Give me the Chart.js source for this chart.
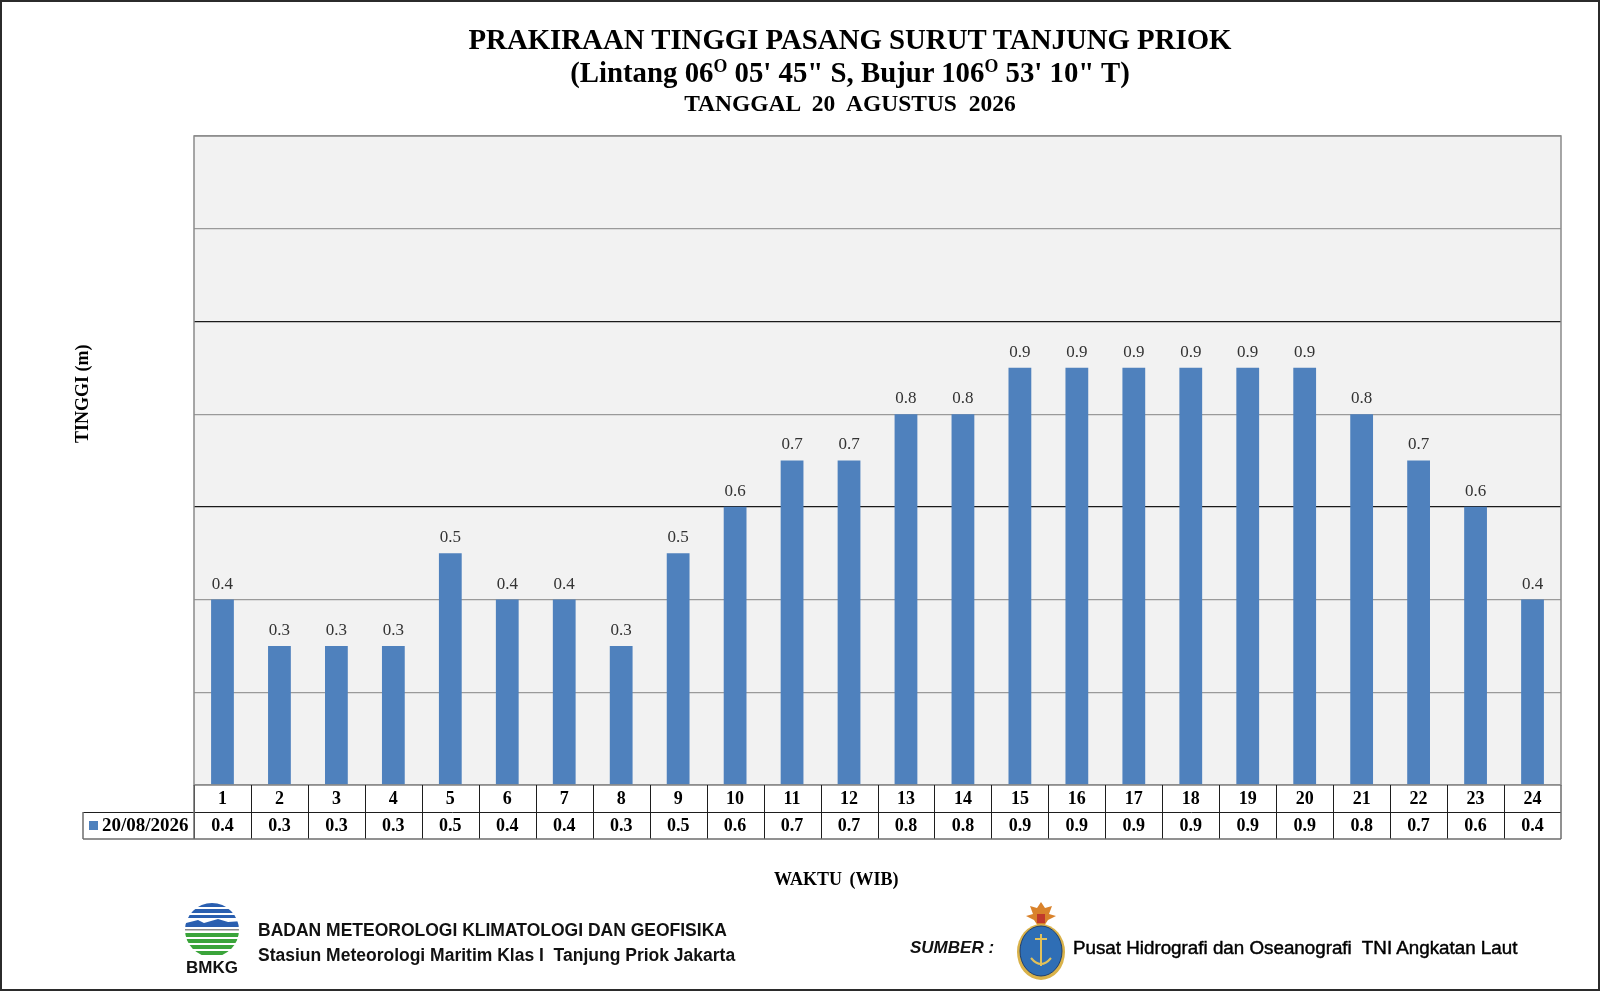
<!DOCTYPE html>
<html>
<head>
<meta charset="utf-8">
<script src="https://cdn.jsdelivr.net/npm/chart.js@4.4.1/dist/chart.umd.min.js"></script>
<style>
  html, body { margin: 0; padding: 0; background: #fff; }
  #page { position: relative; width: 1600px; height: 991px; box-sizing: border-box;
          border: 2px solid #2b2b2b; overflow: hidden; }
  #tideChart { position: absolute; left: -2px; top: -2px; }
  .serif { font-family: "Liberation Serif", "Times New Roman", serif; font-weight: bold; color: #000; }
  .sans { font-family: "Liberation Sans", Arial, sans-serif; font-weight: bold; color: #111; }
  .title { position: absolute; left: 348px; width: 1000px; text-align: center; white-space: nowrap; }
  .title sup { font-size: 0.62em; vertical-align: 0.55em; line-height: 0; }
  .abs { position: absolute; white-space: nowrap; }
</style>
</head>
<body>
<div id="page">
  <canvas id="tideChart" width="1600" height="991"></canvas>

  <div class="title serif" style="top:21px; font-size:28.8px;">PRAKIRAAN TINGGI PASANG SURUT TANJUNG PRIOK</div>
  <div class="title serif" style="top:54px; font-size:28.8px;">(Lintang 06<sup>O</sup> 05' 45" S, Bujur 106<sup>O</sup> 53' 10" T)</div>
  <div class="title serif" style="top:88px; font-size:23.5px; word-spacing:6px;">TANGGAL 20 AGUSTUS 2026</div>

  <div class="abs serif" style="left:62px; top:409px; font-size:18px; transform: rotate(-90deg); transform-origin: 20px 12px;">TINGGI (m)</div>
  <div class="abs serif" style="left:772px; top:867px; font-size:18px; word-spacing:3px;">WAKTU (WIB)</div>

  <!-- BMKG logo -->
  <svg class="abs" style="left:180px; top:900px;" width="60" height="74" viewBox="0 0 60 74">
    <defs><clipPath id="circ"><circle cx="30" cy="28" r="27"/></clipPath></defs>
    <g clip-path="url(#circ)">
      <rect x="0" y="0" width="60" height="5" fill="#2a5fb0"/>
      <rect x="0" y="7" width="60" height="4" fill="#2a5fb0"/>
      <rect x="0" y="13" width="60" height="3" fill="#2a5fb0"/>
      <path d="M0 22 L16 18 L22 21 L36 17 L46 20 L60 19 L60 25 L0 25 Z" fill="#2a5fb0"/>
      <rect x="0" y="27" width="60" height="1.5" fill="#888"/>
      <rect x="0" y="31" width="60" height="4" fill="#3aa43a"/>
      <rect x="0" y="37" width="60" height="4" fill="#3aa43a"/>
      <rect x="0" y="43" width="60" height="4" fill="#3aa43a"/>
      <rect x="0" y="49" width="60" height="4" fill="#3aa43a"/>
    </g>
    <text x="30" y="71" text-anchor="middle" font-family="Liberation Sans, Arial" font-weight="bold" font-size="17" fill="#111">BMKG</text>
  </svg>
  <div class="abs sans" style="left:256px; top:918px; font-size:17.5px;">BADAN METEOROLOGI KLIMATOLOGI DAN GEOFISIKA</div>
  <div class="abs sans" style="left:256px; top:943px; font-size:17.5px;">Stasiun Meteorologi Maritim Klas I&nbsp; Tanjung Priok Jakarta</div>

  <div class="abs sans" style="left:908px; top:936px; font-size:17px; font-style:italic;">SUMBER :</div>
  <!-- Pushidrosal logo -->
  <svg class="abs" style="left:1012px; top:898px;" width="54" height="82" viewBox="0 0 54 82">
    <path d="M27 2 L31 8 L38 6 L35 14 L42 16 L34 20 L30 26 L24 26 L20 20 L12 16 L19 14 L16 6 L23 8 Z" fill="#d9822b"/>
    <rect x="23" y="14" width="8" height="9" fill="#c0392b"/>
    <ellipse cx="27" cy="52" rx="24" ry="28" fill="#d9b24a"/>
    <ellipse cx="27" cy="51" rx="21" ry="25" fill="#2f6eb5" stroke="#1d3f70" stroke-width="1"/>
    <line x1="27" y1="34" x2="27" y2="66" stroke="#e2c15a" stroke-width="2"/>
    <line x1="21" y1="39" x2="33" y2="39" stroke="#e2c15a" stroke-width="2"/>
    <path d="M17 58 Q27 70 37 58" stroke="#e2c15a" stroke-width="2" fill="none"/>
  </svg>
  <div class="abs sans" style="left:1071px; top:935px; font-size:18.8px; font-weight:normal; color:#000; -webkit-text-stroke:0.45px #000;">Pusat Hidrografi dan Oseanografi&nbsp; TNI Angkatan Laut</div>
</div>

<script>
// Hourly tide height forecast (m), Tanjung Priok, 20/08/2026
const hours = ['1', '2', '3', '4', '5', '6', '7', '8', '9', '10', '11', '12',
               '13', '14', '15', '16', '17', '18', '19', '20', '21', '22', '23', '24'];
const tideHeights = [0.4, 0.3, 0.3, 0.3, 0.5, 0.4, 0.4, 0.3, 0.5, 0.6, 0.7, 0.7,
                     0.8, 0.8, 0.9, 0.9, 0.9, 0.9, 0.9, 0.9, 0.8, 0.7, 0.6, 0.4];
const yTicks = [0, 0.2, 0.4, 0.6, 0.8, 1.0, 1.2, 1.4];
const seriesLabel = '20/08/2026';

const barColor = '#4F81BD';
const serifFont = '"Liberation Serif", "Times New Roman", serif';

// Grey plot background and outer border
const plotBackground = {
  id: 'plotBackground',
  beforeDraw(chart) {
    const { ctx, chartArea: a } = chart;
    ctx.save();
    ctx.fillStyle = '#F2F2F2';
    ctx.fillRect(a.left, a.top, a.right - a.left, a.bottom - a.top);
    ctx.restore();
  },
  afterDraw(chart) {
    const { ctx, chartArea: a } = chart;
    ctx.save();
    ctx.strokeStyle = '#8a8a8a';
    ctx.lineWidth = 1.5;
    ctx.strokeRect(a.left, a.top, a.right - a.left, a.bottom - a.top);
    ctx.restore();
  }
};

// Value labels above each bar
const barValueLabels = {
  id: 'barValueLabels',
  afterDatasetsDraw(chart) {
    const { ctx } = chart;
    const meta = chart.getDatasetMeta(0);
    ctx.save();
    ctx.font = '17px ' + serifFont;
    ctx.fillStyle = '#333';
    ctx.textAlign = 'center';
    ctx.textBaseline = 'bottom';
    meta.data.forEach((bar, i) => {
      ctx.fillText(tideHeights[i].toFixed(1), bar.x, bar.y - 7);
    });
    ctx.restore();
  }
};

// Data table under the plot (hours row + values row with legend key)
const dataTable = {
  id: 'dataTable',
  afterDraw(chart) {
    const { ctx, chartArea: a } = chart;
    const x = chart.scales.x;
    const rowH = 27;
    const top = a.bottom;
    const mid = top + rowH;
    const bottom = mid + rowH;
    const legendLeft = 83;
    const half = (a.right - a.left) / hours.length / 2;

    ctx.save();
    ctx.lineWidth = 1;
    ctx.strokeStyle = '#1e1e1e';
    ctx.beginPath();
    ctx.moveTo(legendLeft, mid + 0.5); ctx.lineTo(a.right, mid + 0.5);
    for (let i = 0; i < hours.length; i++) {
      const edge = Math.round(x.getPixelForValue(i) - half) + 0.5;
      ctx.moveTo(edge, top); ctx.lineTo(edge, bottom);
    }
    ctx.stroke();

    ctx.strokeStyle = '#6e6e6e';
    ctx.lineWidth = 1.5;
    ctx.beginPath();
    ctx.moveTo(legendLeft, bottom); ctx.lineTo(a.right, bottom);
    ctx.moveTo(legendLeft, mid); ctx.lineTo(legendLeft, bottom);
    ctx.moveTo(a.right, top); ctx.lineTo(a.right, bottom);
    ctx.moveTo(a.left, top); ctx.lineTo(a.left, bottom);
    ctx.stroke();

    ctx.fillStyle = '#000';
    ctx.font = 'bold 18px ' + serifFont;
    ctx.textAlign = 'center';
    ctx.textBaseline = 'middle';
    hours.forEach((h, i) => {
      const cx = x.getPixelForValue(i);
      ctx.fillText(h, cx, top + rowH / 2 + 1);
      ctx.fillText(tideHeights[i].toFixed(1), cx, mid + rowH / 2 + 1);
    });

    ctx.fillStyle = barColor;
    ctx.fillRect(legendLeft + 6, mid + 9, 9, 9);
    ctx.fillStyle = '#000';
    ctx.font = 'bold 19px ' + serifFont;
    ctx.textAlign = 'left';
    ctx.fillText(seriesLabel, legendLeft + 19, mid + rowH / 2 + 1);
    ctx.restore();
  }
};

window.onload = function () {
  const ctx = document.getElementById('tideChart').getContext('2d');
  new Chart(ctx, {
    type: 'bar',
    data: {
      labels: hours,
      datasets: [{
        label: seriesLabel,
        data: tideHeights,
        backgroundColor: barColor,
        borderWidth: 0,
        barPercentage: 0.4,
        categoryPercentage: 1.0
      }]
    },
    options: {
      responsive: false,
      animation: false,
      devicePixelRatio: 1,
      layout: { padding: { left: 194, right: 39, top: 136, bottom: 206 } },
      plugins: {
        legend: { display: false },
        tooltip: { enabled: false },
        title: { display: false }
      },
      scales: {
        x: {
          grid: { display: false },
          border: { display: false },
          ticks: { display: false },
          afterFit(scale) { scale.height = 0; }
        },
        y: {
          min: yTicks[0],
          max: yTicks[yTicks.length - 1],
          afterBuildTicks(scale) { scale.ticks = yTicks.map(v => ({ value: v })); },
          ticks: { display: false },
          border: { display: false },
          grid: {
            drawTicks: false,
            lineWidth: 1.2,
            color(c) {
              const v = Math.round(c.tick.value * 10) / 10;
              return (v === 0.6 || v === 1.0) ? '#1a1a1a' : '#9a9a9a';
            }
          },
          afterFit(scale) { scale.width = 0; }
        }
      }
    },
    plugins: [plotBackground, barValueLabels, dataTable]
  });
};
</script>
</body>
</html>
